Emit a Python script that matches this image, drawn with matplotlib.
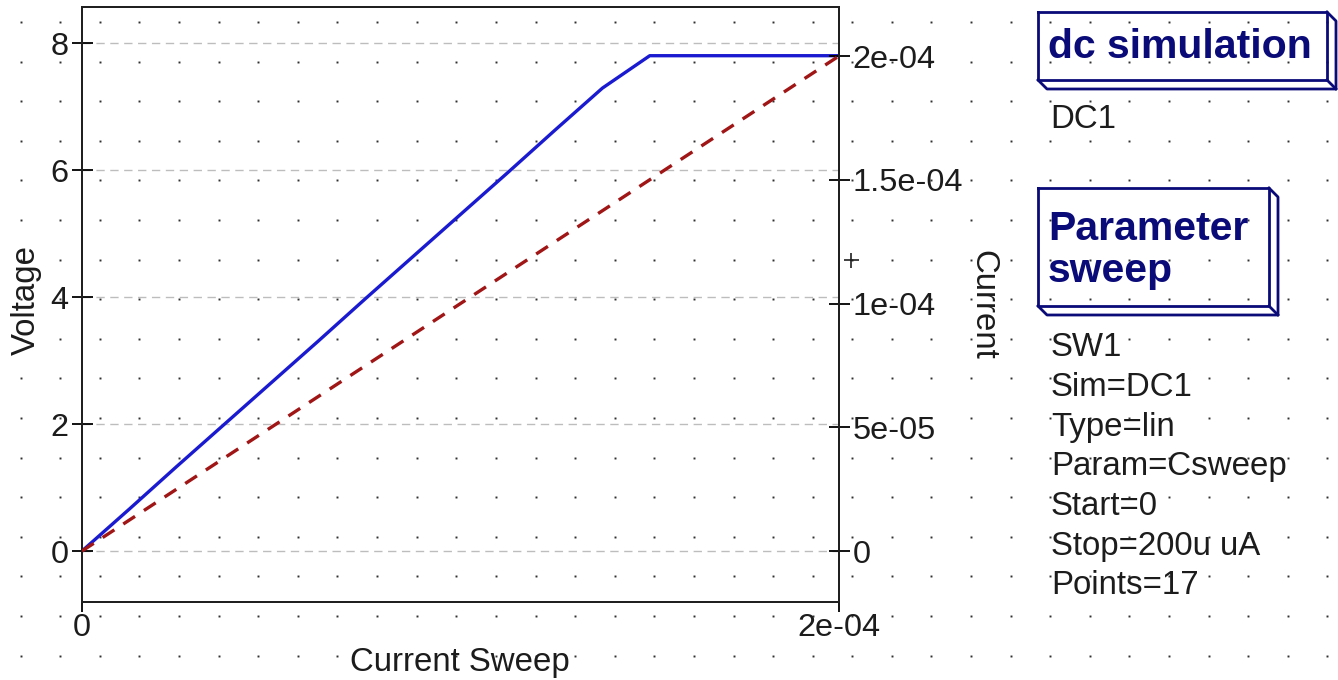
import numpy as np
import matplotlib
matplotlib.use("Agg")
import matplotlib.pyplot as plt

plt.rcParams['font.family'] = ['Liberation Sans', 'DejaVu Sans']

# ---- data ----
sweep_current = [0.0, 12.5e-6, 25e-6, 37.5e-6, 50e-6, 62.5e-6, 75e-6, 87.5e-6, 100e-6,
                 112.5e-6, 125e-6, 137.5e-6, 150e-6, 162.5e-6, 175e-6, 187.5e-6, 200e-6]
voltage = [0.0, 0.66, 1.33, 1.99, 2.65, 3.31, 3.98, 4.64, 5.30,
           5.96, 6.63, 7.29, 7.80, 7.80, 7.80, 7.80, 7.80]
current = [0.0, 12.5e-6, 25e-6, 37.5e-6, 50e-6, 62.5e-6, 75e-6, 87.5e-6, 100e-6,
           112.5e-6, 125e-6, 137.5e-6, 150e-6, 162.5e-6, 175e-6, 187.5e-6, 200e-6]
x_ticks = [0.0, 2e-4]
x_ticklabels = ["0", "2e-04"]
left_ticks = [0, 2, 4, 6, 8]
right_ticks = [0.0, 5e-5, 1e-4, 1.5e-4, 2e-4]
right_ticklabels = ["0", "5e-05", "1e-04", "1.5e-04", "2e-04"]
dc_title = "dc simulation"
dc_name = "DC1"
sw_title = "Parameter\nsweep"
sw_props = ["SW1", "Sim=DC1", "Type=lin", "Param=Csweep", "Start=0",
            "Stop=200u uA", "Points=17"]

W, H = 1338, 680
DPI = 100
fig = plt.figure(figsize=(W / DPI, H / DPI), dpi=DPI)
fig.patch.set_facecolor('white')

def px2pt(px):
    return px * 72.0 / DPI

TXT = '#1c1c1c'
NAVY = '#0a0a78'

# ---- background (schematic canvas) ----
bg = fig.add_axes([0, 0, 1, 1], zorder=0)
bg.set_xlim(0, W)
bg.set_ylim(H, 0)
bg.axis('off')

gx = np.arange(20.7, W, 39.6)
gy = np.arange(22.0, H, 39.6)
GX, GY = np.meshgrid(gx, gy)
bg.plot(GX.ravel(), GY.ravel(), linestyle='none', marker='s', markersize=1.4,
        color='#303030', markeredgewidth=0)

def box3d(x0, y0, x1, y1, d):
    kw = dict(color=NAVY, lw=2.0, solid_capstyle='projecting')
    bg.plot([x0, x1, x1, x0, x0], [y0, y0, y1, y1, y0], **kw)
    bg.plot([x0, x0 + d, x1 + d, x1 + d, x1], [y1, y1 + d, y1 + d, y0 + d, y0], **kw)
    bg.plot([x1, x1 + d], [y1, y1 + d], **kw)

box3d(1038, 12, 1327, 80, 9)
bg.text(1048, 47, dc_title, fontsize=px2pt(41), fontweight='bold', color=NAVY,
        ha='left', va='center')
bg.text(1050, 119, dc_name, fontsize=px2pt(33), color=TXT, ha='left', va='center')

box3d(1038, 188, 1269, 306, 9)
bg.text(1048, 250, sw_title, fontsize=px2pt(41), fontweight='bold', color=NAVY,
        ha='left', va='center', linespacing=1.12)
for i, s in enumerate(sw_props):
    bg.text(1051, 348 + i * 39.6, s, fontsize=px2pt(33), color=TXT,
            ha='left', va='center')

# ---- diagram ----
L, R, T, B = 82, 839, 7, 602
ax = fig.add_axes([L / W, 1 - B / H, (R - L) / W, (B - T) / H], zorder=2)
ax.patch.set_visible(False)
ax2 = ax.twinx()
ax2.patch.set_visible(False)

ax.set_xlim(0, 2e-4)
ax.set_ylim(-0.803, 8.567)
ax2.set_ylim(-2.06e-5, 2.198e-4)

for a in (ax, ax2):
    for sp in a.spines.values():
        sp.set_linewidth(1.4)
        sp.set_color('#202020')

for yv in left_ticks:
    ax.axhline(yv, color='#bdbdbd', lw=1.0, ls=(0, (6, 4)), zorder=1)

ax.plot(sweep_current, voltage, color='#1a1ad0', lw=2.4, zorder=4,
        solid_joinstyle='round')
ax2.plot(sweep_current, current, color='#a01515', lw=2.4, zorder=3,
         dashes=(4.2, 3.2))

tfs = px2pt(32.5)
ax.set_xticks(x_ticks)
ax.set_xticklabels(x_ticklabels)
ax.set_yticks(left_ticks)
ax.set_yticklabels([str(v) for v in left_ticks])
ax2.set_yticks(right_ticks)
ax2.set_yticklabels(right_ticklabels)

ax.tick_params(axis='y', direction='inout', length=px2pt(21), width=1.3,
               labelsize=tfs, labelcolor=TXT, pad=px2pt(3))
ax.tick_params(axis='x', direction='out', length=px2pt(10), width=1.3,
               labelsize=tfs, labelcolor=TXT, pad=px2pt(1))
ax2.tick_params(axis='y', direction='inout', length=px2pt(21), width=1.3,
                labelsize=tfs, labelcolor=TXT, pad=px2pt(3))

lfs = px2pt(33)
ax.set_ylabel("Voltage", fontsize=lfs, color=TXT)
ax.yaxis.set_label_coords((26 - L) / (R - L), (B - 300) / (B - T))
ax.yaxis.label.set_va('center')
ax.yaxis.label.set_ha('center')
ax2.set_ylabel("Current", fontsize=lfs, color=TXT, rotation=270)
ax2.yaxis.set_label_coords((983 - L) / (R - L), (B - 305) / (B - T))
ax2.yaxis.label.set_va('center')
ax2.yaxis.label.set_ha('center')
ax.set_xlabel("Current Sweep", fontsize=lfs, color=TXT)
ax.xaxis.set_label_coords((460 - L) / (R - L), (B - 662) / (B - T))
ax.xaxis.label.set_va('center')
ax.xaxis.label.set_ha('center')

# small cursor cross next to the right axis
bg.plot([851], [260], marker='+', markersize=px2pt(15), markeredgewidth=1.2,
        color='#202020', linestyle='none', zorder=3)

fig.savefig("out.png", dpi=DPI, facecolor='white')
